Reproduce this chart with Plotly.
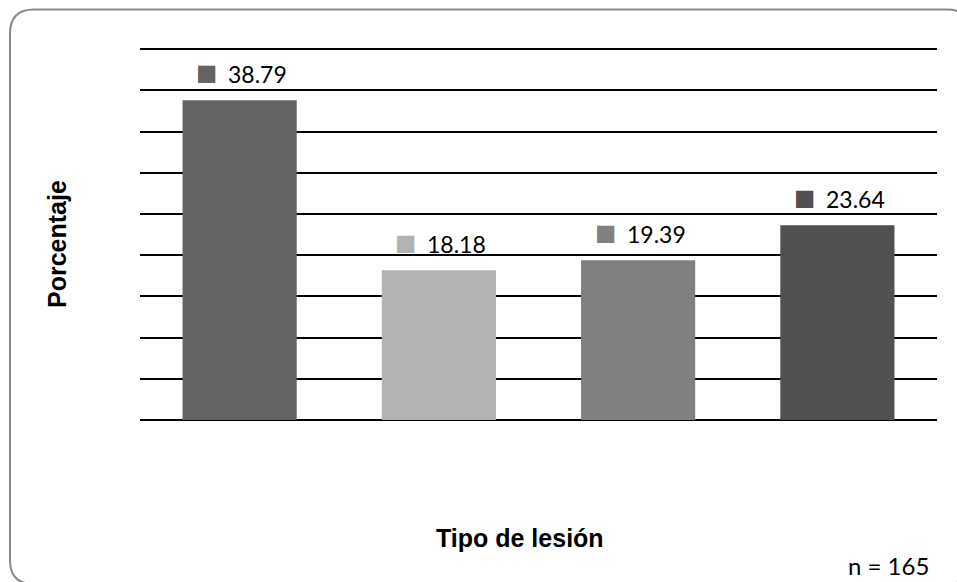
import plotly.graph_objects as go

# Data
categories = ["Lesión 1", "Lesión 2", "Lesión 3", "Lesión 4"]
percentages = [38.79, 18.18, 19.39, 23.64]
bar_colors = ["#636363", "#b2b2b2", "#808080", "#515151"]
sample_note = "n = 165"
x_title = "Tipo de lesión"
y_title = "Porcentaje"

# Figure geometry (pixels)
FIG_W, FIG_H = 957, 582
L, R, T, B = 140, 20, 45, 162
W = FIG_W - L - R
H = FIG_H - T - B


def px_x(px):
    return (px - L) / W


def px_y(py):
    return (T + H - py) / H


fig = go.Figure()
fig.add_trace(
    go.Bar(
        x=categories,
        y=percentages,
        marker=dict(color=bar_colors, line=dict(width=0)),
        hoverinfo="skip",
    )
)

# Value labels with a colour key square in front of each number
for cat, val, col in zip(categories, percentages, bar_colors):
    fig.add_annotation(
        x=cat, y=val, xref="x", yref="y",
        text="■", showarrow=False,
        yanchor="middle", xanchor="center",
        yshift=28.5, xshift=-33,
        font=dict(family="DejaVu Sans", size=22.5, color=col),
    )
    fig.add_annotation(
        x=cat, y=val, xref="x", yref="y",
        text=f"{val:.2f}", showarrow=False,
        yanchor="bottom", xanchor="center",
        yshift=10, xshift=18,
        font=dict(family="Lato", size=23, color="#000000"),
    )

# Axis titles and sample size note
fig.add_annotation(
    x=px_x(57), y=px_y(244), xref="paper", yref="paper",
    text=f"<b>{y_title}</b>", textangle=-90, showarrow=False,
    xanchor="center", yanchor="middle",
    font=dict(family="Liberation Sans", size=25, color="#000000"),
)
fig.add_annotation(
    x=px_x(520), y=px_y(538), xref="paper", yref="paper",
    text=f"<b>{x_title}</b>", showarrow=False,
    xanchor="center", yanchor="middle",
    font=dict(family="Liberation Sans", size=25, color="#000000"),
)
fig.add_annotation(
    x=px_x(931), y=px_y(565), xref="paper", yref="paper",
    text=sample_note, showarrow=False,
    xanchor="right", yanchor="middle",
    font=dict(family="Lato", size=24, color="#000000"),
)

# Rounded chart-area border
bx0, by0, bx1, by1, rad = 10, 9.5, 971, 584, 24
path = (
    f"M {px_x(bx0 + rad)},{px_y(by0)} "
    f"L {px_x(bx1 - rad)},{px_y(by0)} "
    f"Q {px_x(bx1)},{px_y(by0)} {px_x(bx1)},{px_y(by0 + rad)} "
    f"L {px_x(bx1)},{px_y(by1 - rad)} "
    f"Q {px_x(bx1)},{px_y(by1)} {px_x(bx1 - rad)},{px_y(by1)} "
    f"L {px_x(bx0 + rad)},{px_y(by1)} "
    f"Q {px_x(bx0)},{px_y(by1)} {px_x(bx0)},{px_y(by1 - rad)} "
    f"L {px_x(bx0)},{px_y(by0 + rad)} "
    f"Q {px_x(bx0)},{px_y(by0)} {px_x(bx0 + rad)},{px_y(by0)} Z"
)
fig.add_shape(
    type="path", path=path, xref="paper", yref="paper",
    line=dict(color="#8a8a8a", width=2), layer="above",
)

fig.update_layout(
    width=FIG_W,
    height=FIG_H,
    margin=dict(l=L, r=R, t=T, b=B, pad=0),
    paper_bgcolor="white",
    plot_bgcolor="white",
    showlegend=False,
    bargap=0.427,
    xaxis=dict(
        showticklabels=False, ticks="", showgrid=False,
        zeroline=False, showline=False,
    ),
    yaxis=dict(
        range=[0, 45.5], dtick=5, tick0=0,
        showticklabels=False, ticks="",
        showgrid=True, gridcolor="#000000", gridwidth=1.5,
        zeroline=True, zerolinecolor="#000000", zerolinewidth=1.5,
        showline=False,
    ),
)

fig.write_html("out.html")
